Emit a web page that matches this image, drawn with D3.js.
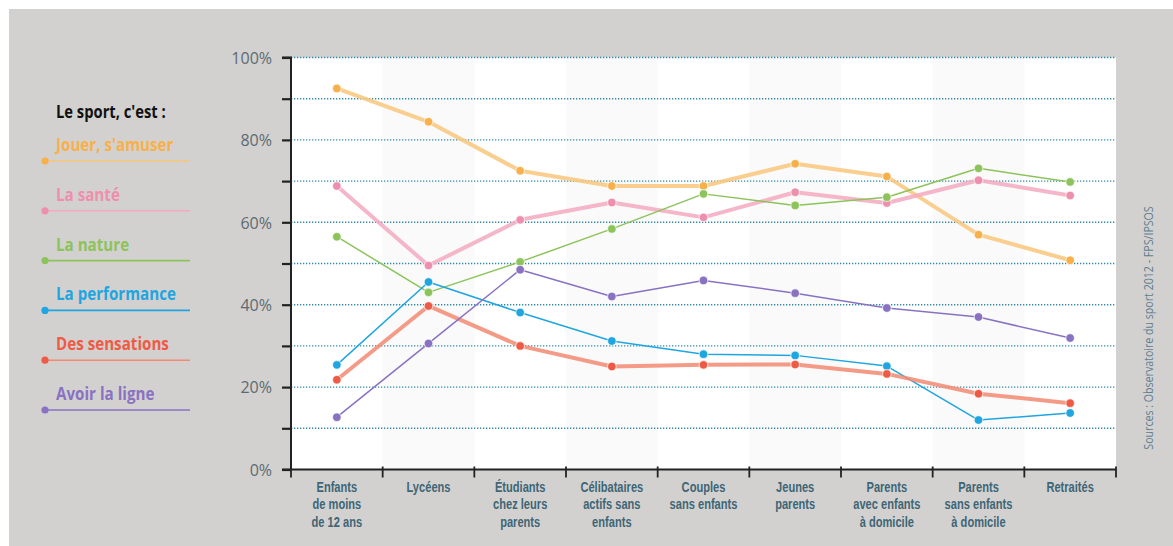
<!DOCTYPE html>
<html><head><meta charset="utf-8">
<script src="https://cdn.jsdelivr.net/npm/d3@7"></script>
<style>
html,body{margin:0;padding:0;background:#fff;}
svg{display:block;}
</style></head>
<body>
<svg id="chart" width="1173" height="546"></svg>
<script>
const categories = [
  ["Enfants","de moins","de 12 ans"],
  ["Lycéens"],
  ["Étudiants","chez leurs","parents"],
  ["Célibataires","actifs sans","enfants"],
  ["Couples","sans enfants"],
  ["Jeunes","parents"],
  ["Parents","avec enfants","à domicile"],
  ["Parents","sans enfants","à domicile"],
  ["Retraités"]
];
const seriesNames = ["Jouer, s'amuser","La santé","La nature","La performance","Des sensations","Avoir la ligne"];
const jouer       = [92.5, 84.4, 72.5, 68.8, 68.8, 74.2, 71.1, 57.0, 50.8];
const sante       = [68.8, 49.5, 60.6, 64.8, 61.2, 67.3, 64.7, 70.2, 66.5];
const nature      = [56.5, 43.0, 50.4, 58.4, 66.9, 64.1, 66.1, 73.1, 69.8];
const performance = [25.4, 45.5, 38.1, 31.2, 28.0, 27.7, 25.1, 12.0, 13.7];
const sensations  = [21.8, 39.7, 30.0, 25.0, 25.4, 25.5, 23.2, 18.4, 16.1];
const ligne       = [12.7, 30.6, 48.5, 42.0, 45.9, 42.8, 39.2, 37.0, 31.9];
const yTickLabels = ["0%","20%","40%","60%","80%","100%"];
const sourceText = "Sources : Observatoire du sport 2012 - FPS/IPSOS";
const legendTitle = "Le sport, c'est :";

const seriesValues = [jouer, sante, nature, performance, sensations, ligne];
const colors = ["#f7b04a","#ee8fae","#8cc35a","#1fa5e0","#ef5a45","#8a72c2"];
const lineColors = ["#f8c57a","#f3a9c0","#8cc35a","#1fa5e0","#f28a72","#8a72c2"];
const thick = [true,true,false,false,true,false];

const svg = d3.select("#chart");
const font = "'Open Sans','DejaVu Sans',sans-serif";
const xfont = "'Liberation Sans','DejaVu Sans',sans-serif";

// background
svg.append("rect").attr("x",0).attr("y",0).attr("width",1173).attr("height",546).attr("fill","#fff");
svg.append("rect").attr("x",9).attr("y",9).attr("width",1164).attr("height",537).attr("fill","#d3d1d0");

const pL = 291, pR = 1116, pT = 57.5, pB = 469.5;
const x = d3.scaleBand().domain(d3.range(categories.length)).range([pL,pR]).padding(0);
const y = d3.scaleLinear().domain([0,100]).range([pB,pT]);

// plot area
svg.append("rect").attr("x",pL).attr("y",pT).attr("width",pR-pL).attr("height",pB-pT).attr("fill","#ffffff");
svg.selectAll("rect.band").data(d3.range(categories.length).filter(i=>i%2===1)).enter()
  .append("rect").attr("class","band")
  .attr("x",i=>x(i)).attr("y",pT).attr("width",x.bandwidth()).attr("height",pB-pT)
  .attr("fill","#fafafa");

// gridlines
const gridVals = d3.range(10,101,10);
svg.selectAll("line.grid").data(gridVals).enter().append("line").attr("class","grid")
  .attr("x1",pL).attr("x2",pR).attr("y1",d=>y(d)).attr("y2",d=>y(d))
  .attr("stroke","#2e8aa8").attr("stroke-width",1.4).attr("stroke-dasharray","1.3,1.7");

// y axis
const yAxis = d3.axisLeft(y).tickValues(gridVals.concat([0])).tickSize(9).tickFormat(d=> d%20===0 ? yTickLabels[d/20] : "");
const gy = svg.append("g").attr("transform",`translate(${pL},0)`).call(yAxis);
gy.select(".domain").attr("stroke","#222").attr("stroke-width",2).attr("d",`M-9,${pT}H0V${pB}`);
gy.selectAll(".tick line").attr("stroke","#222").attr("stroke-width",2.2);
gy.selectAll(".tick text").attr("x",-19).attr("dy","0.36em").attr("fill","#5b6b72")
  .style("font-family",font).style("font-size","16px");

// x axis
const gx = svg.append("g");
gx.append("line").attr("x1",pL-9).attr("x2",pR).attr("y1",pB).attr("y2",pB).attr("stroke","#222").attr("stroke-width",2);
const bounds = d3.range(categories.length+1).map(i=> i<categories.length ? x(i) : pR);
gx.selectAll("line.xt").data(bounds).enter().append("line").attr("class","xt")
  .attr("x1",d=>d).attr("x2",d=>d).attr("y1",pB-3).attr("y2",pB+8).attr("stroke","#222").attr("stroke-width",1.8);
const xg = gx.selectAll("g.xl").data(categories).enter().append("g").attr("class","xl")
  .attr("transform",(d,i)=>`translate(${x(i)+x.bandwidth()/2},492) scale(0.74,1)`);
xg.each(function(d){
  const g = d3.select(this);
  d.forEach((s,k)=>g.append("text").attr("x",0).attr("y",k*17.5).attr("text-anchor","middle")
    .attr("fill","#3d6675").style("font-family",xfont).style("font-size","15px").style("font-weight","bold").text(s));
});

// lines
const line = d3.line().x((d,i)=>x(i)+x.bandwidth()/2).y(d=>y(d));
seriesValues.forEach((vals,s)=>{
  svg.append("path").datum(vals).attr("d",line).attr("fill","none")
    .attr("stroke",lineColors[s]).attr("stroke-width",thick[s]?4:1.5).attr("stroke-linejoin","round")
    .attr("stroke-opacity",thick[s]?0.85:1);
});
seriesValues.forEach((vals,s)=>{
  svg.selectAll(null).data(vals).enter().append("circle")
    .attr("cx",(d,i)=>x(i)+x.bandwidth()/2).attr("cy",d=>y(d)).attr("r",4.3)
    .attr("fill",colors[s]).attr("stroke","#fff").attr("stroke-opacity",0.6).attr("stroke-width",1.2);
});

// legend
svg.append("g").attr("transform","translate(56,118) scale(0.82,1)").append("text").text(legendTitle)
  .attr("fill","#111").style("font-family",font).style("font-size","18px").style("font-weight","bold");
seriesNames.forEach((n,s)=>{
  const ly = 161 + s*49.8;
  svg.append("g").attr("transform",`translate(56,${ly-10}) scale(0.82,1)`).append("text").text(n)
    .attr("fill",colors[s]).style("font-family",font).style("font-size","18.5px").style("font-weight","bold");
  svg.append("line").attr("x1",45).attr("x2",190).attr("y1",ly).attr("y2",ly)
    .attr("stroke",lineColors[s]).attr("stroke-width",1.6);
  svg.append("circle").attr("cx",45).attr("cy",ly).attr("r",3.6).attr("fill",colors[s]);
});

// source
svg.append("g").attr("transform","translate(1153,328) rotate(-90) scale(0.85,1)").append("text").attr("text-anchor","middle")
  .text(sourceText).attr("fill","#5d7f8f").style("font-family",font).style("font-size","12.5px");
</script>
</body></html>
